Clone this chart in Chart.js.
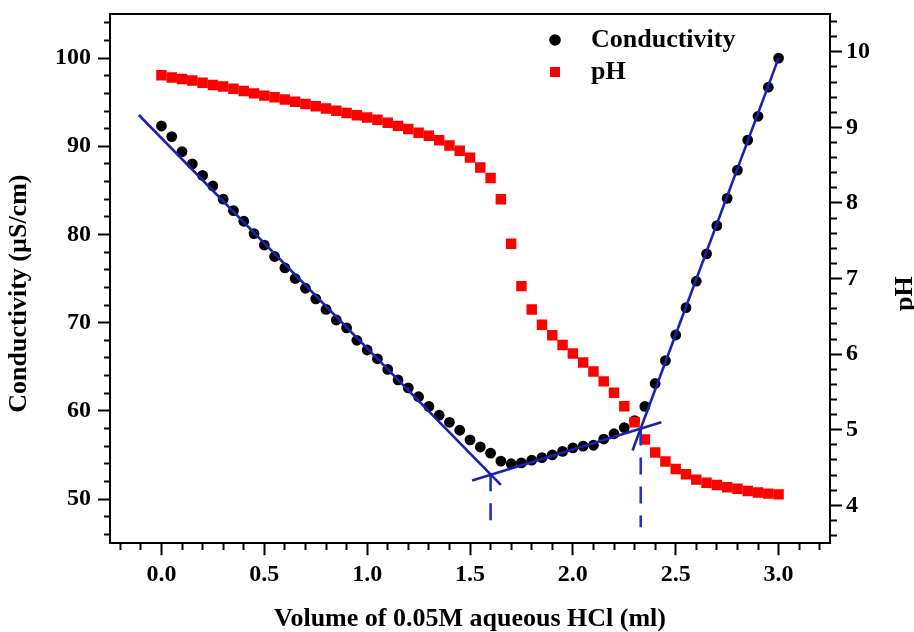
<!DOCTYPE html>
<html>
<head>
<meta charset="utf-8">
<title>Conductometric and pH titration</title>
<script src="https://cdn.jsdelivr.net/npm/chart.js@4.4.1/dist/chart.umd.min.js"></script>
<style>
  html, body { margin: 0; padding: 0; background: #ffffff; }
  #wrap { width: 914px; height: 632px; }
</style>
</head>
<body>
<div id="wrap"><canvas id="titrationChart" width="914" height="632"></canvas></div>
<script>
// ===========================
// DATA
// ===========================

// volume of 0.05M HCl added (ml)
const volume = [
  0.00, 0.05, 0.10, 0.15, 0.20, 0.25, 0.30, 0.35, 0.40, 0.45,
  0.50, 0.55, 0.60, 0.65, 0.70, 0.75, 0.80, 0.85, 0.90, 0.95,
  1.00, 1.05, 1.10, 1.15, 1.20, 1.25, 1.30, 1.35, 1.40, 1.45,
  1.50, 1.55, 1.60, 1.65, 1.70, 1.75, 1.80, 1.85, 1.90, 1.95,
  2.00, 2.05, 2.10, 2.15, 2.20, 2.25, 2.30, 2.35, 2.40, 2.45,
  2.50, 2.55, 2.60, 2.65, 2.70, 2.75, 2.80, 2.85, 2.90, 2.95,
  3.00
];

// conductivity (µS/cm)
const conductivity = [
  92.3, 91.1, 89.4, 88.0, 86.7, 85.5, 84.0, 82.7, 81.5, 80.1,
  78.8, 77.5, 76.2, 75.0, 73.9, 72.7, 71.5, 70.3, 69.4, 68.0,
  66.9, 65.9, 64.7, 63.5, 62.6, 61.6, 60.5, 59.5, 58.7, 57.8,
  56.7, 55.9, 55.2, 54.3, 54.0, 54.1, 54.4, 54.7, 55.0, 55.4,
  55.8, 56.0, 56.1, 56.8, 57.4, 58.1, 58.9, 60.5, 63.1, 65.7,
  68.6, 71.7, 74.7, 77.8, 81.0, 84.1, 87.3, 90.7, 93.4, 96.7,
  100.0
];

// pH
const ph = [
  9.69, 9.66, 9.64, 9.62, 9.59, 9.56, 9.54, 9.51, 9.48, 9.45,
  9.42, 9.40, 9.37, 9.34, 9.31, 9.28, 9.25, 9.22, 9.19, 9.16,
  9.13, 9.10, 9.06, 9.02, 8.98, 8.93, 8.89, 8.83, 8.76, 8.69,
  8.60, 8.47, 8.33, 8.05, 7.46, 6.90, 6.59, 6.39, 6.25, 6.12,
  6.01, 5.89, 5.77, 5.64, 5.49, 5.31, 5.10, 4.87, 4.70, 4.58,
  4.48, 4.41, 4.34, 4.30, 4.27, 4.24, 4.22, 4.19, 4.17, 4.155,
  4.145
];

// straight-line fits on the conductivity branches (ml, µS/cm)
const fitFalling = [{ x: -0.11, y: 93.55 }, { x: 1.65, y: 51.6 }];
const fitFlat = [{ x: 1.51, y: 52.1 }, { x: 2.43, y: 58.7 }];
const fitRising = [{ x: 2.29, y: 55.5 }, { x: 3.0, y: 100.0 }];

// equivalence point drop lines (ml, µS/cm)
const firstEndpoint = [{ x: 1.6, y: 52.8 }, { x: 1.6, y: 46.4 }];
const secondEndpoint = [{ x: 2.33, y: 58.0 }, { x: 2.33, y: 46.8 }];

const xTitle = "Volume of 0.05M aqueous HCl (ml)";
const leftTitle = "Conductivity (\u00B5S/cm)";
const rightTitle = "pH";

// ===========================
// STYLE
// ===========================

const SERIF = "'Liberation Serif', 'Times New Roman', serif";
const FIT_BLUE = "#1b22ad";
const DROP_BLUE = "#2230c4";

Chart.defaults.font.family = SERIF;
Chart.defaults.font.weight = "bold";
Chart.defaults.color = "#000000";

function onStep(value, step) {
  const r = value / step;
  return Math.abs(r - Math.round(r)) < 1e-6;
}

function toPoints(xs, ys) {
  return xs.map((x, i) => ({ x: x, y: ys[i] }));
}

// long major ticks, short minor ticks (dash pattern trims the minor ones)
function tickDash(step, outwardFirst) {
  return (ctx) => {
    if (!ctx.tick || onStep(ctx.tick.value, step)) return [];
    return outwardFirst ? [0, 6, 6, 40] : [6, 40];
  };
}

function axisGrid(step, outwardFirst) {
  return {
    drawOnChartArea: false,
    drawTicks: true,
    tickLength: 12,
    tickWidth: 2,
    tickColor: "#000000",
    tickBorderDash: tickDash(step, outwardFirst),
  };
}

const axisBorder = { display: true, color: "#000000", width: 2 };

// end labels are blank, so the vertical axes need no extra room above/below
function noEndPadding(scale) {
  scale.paddingTop = 0;
  scale.paddingBottom = 0;
}

// ===========================
// PLUGINS
// ===========================

// legend inside the plot: marker, then label further right than Chart.js allows
const insideLegend = {
  id: "insideLegend",
  afterDatasetsDraw(chart) {
    const { ctx, chartArea } = chart;
    const markerX = chartArea.left + 445;
    ctx.save();
    ctx.font = "bold 26px " + SERIF;
    ctx.textAlign = "left";
    ctx.textBaseline = "middle";
    chart.data.datasets.slice(0, 2).forEach((ds, i) => {
      const y = chartArea.top + 26 + i * 32;
      ctx.fillStyle = ds.backgroundColor;
      Chart.helpers.drawPoint(
        ctx,
        { pointStyle: ds.pointStyle, radius: ds.legendRadius, borderWidth: 0, rotation: 0 },
        markerX,
        y
      );
      ctx.fillStyle = "#000000";
      ctx.fillText(ds.label, markerX + 36, y);
    });
    ctx.restore();
  },
};

// both vertical titles read bottom-to-top
const sideTitles = {
  id: "sideTitles",
  afterDraw(chart) {
    const { ctx, chartArea } = chart;
    const midY = (chartArea.top + chartArea.bottom) / 2 + 15;
    ctx.save();
    ctx.font = "bold 26px " + SERIF;
    ctx.fillStyle = "#000000";
    ctx.textAlign = "center";
    ctx.textBaseline = "middle";
    [
      [leftTitle, chartArea.left - 91],
      [rightTitle, chartArea.right + 75],
    ].forEach(([text, x]) => {
      ctx.save();
      ctx.translate(x, midY);
      ctx.rotate(-Math.PI / 2);
      ctx.fillText(text, 0, 0);
      ctx.restore();
    });
    ctx.restore();
  },
};

// ===========================
// CHART
// ===========================

const ctx = document.getElementById("titrationChart").getContext("2d");

// note: min is nudged off the step grid so Chart.js keeps ticks on round values
new Chart(ctx, {
  type: "scatter",
  data: {
    datasets: [
      {
        label: "Conductivity",
        data: toPoints(volume, conductivity),
        yAxisID: "y",
        pointStyle: "circle",
        pointRadius: 5.4,
        legendRadius: 5.8,
        backgroundColor: "#000000",
        borderColor: "#000000",
        borderWidth: 0,
        order: 3,
      },
      {
        label: "pH",
        data: toPoints(volume, ph),
        yAxisID: "y2",
        pointStyle: "rect",
        pointRadius: 7.4,
        legendRadius: 7.1,
        backgroundColor: "#ff0000",
        borderColor: "#ff0000",
        borderWidth: 0,
        order: 2,
      },
      ...[fitFalling, fitFlat, fitRising].map((line) => ({
        label: "fit",
        data: line,
        yAxisID: "y",
        showLine: true,
        pointRadius: 0,
        borderColor: FIT_BLUE,
        borderWidth: 2.6,
        order: 1,
      })),
      ...[firstEndpoint, secondEndpoint].map((line) => ({
        label: "endpoint",
        data: line,
        yAxisID: "y",
        showLine: true,
        pointRadius: 0,
        borderColor: DROP_BLUE,
        borderWidth: 2.6,
        borderDash: [17, 12],
        order: 1,
      })),
    ],
  },
  options: {
    responsive: false,
    animation: false,
    events: [],
    layout: { padding: { left: 48, right: 40, top: 14, bottom: 0 } },
    plugins: {
      tooltip: { enabled: false },
      legend: { display: false },
    },
    scales: {
      x: {
        type: "linear",
        position: "bottom",
        min: -0.2501,
        max: 3.25,
        border: axisBorder,
        grid: axisGrid(0.5, false),
        ticks: {
          stepSize: 0.1,
          includeBounds: false,
          autoSkip: false,
          maxRotation: 0,
          padding: 5,
          font: { size: 24, weight: "bold", lineHeight: 1.2 },
          callback: (v) => (onStep(v, 0.5) ? Number(v).toFixed(1) : ""),
        },
        title: {
          display: true,
          text: xTitle,
          font: { size: 26, weight: "bold", lineHeight: 1 },
          padding: { top: 12, bottom: 0 },
        },
      },
      xTop: {
        type: "linear",
        position: "top",
        min: -0.2501,
        max: 3.25,
        border: axisBorder,
        grid: { drawOnChartArea: false, drawTicks: false },
        ticks: { display: false },
      },
      y: {
        type: "linear",
        position: "left",
        min: 44.99,
        max: 105,
        border: axisBorder,
        grid: axisGrid(10, true),
        afterFit: noEndPadding,
        ticks: {
          stepSize: 2,
          includeBounds: false,
          autoSkip: false,
          padding: 7,
          font: { size: 24, weight: "bold" },
          callback: (v) => (onStep(v, 10) ? String(v) : ""),
        },
      },
      y2: {
        type: "linear",
        position: "right",
        min: 3.499,
        max: 10.5,
        border: axisBorder,
        grid: axisGrid(1, false),
        afterFit: noEndPadding,
        ticks: {
          stepSize: 0.2,
          includeBounds: false,
          autoSkip: false,
          padding: 4,
          font: { size: 24, weight: "bold" },
          callback: (v) => (onStep(v, 1) ? String(Math.round(v)) : ""),
        },
      },
    },
  },
  plugins: [insideLegend, sideTitles],
});
</script>
</body>
</html>
